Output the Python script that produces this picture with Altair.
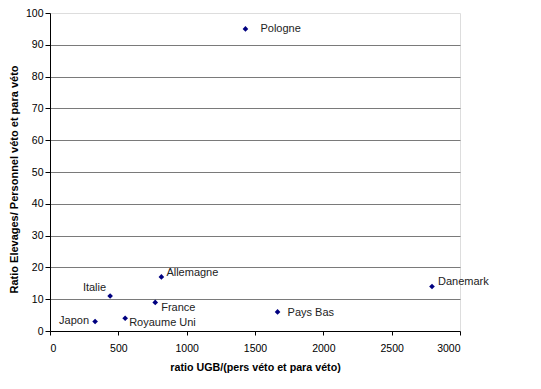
import altair as alt
import pandas as pd

pays = ["Pologne", "Danemark", "Pays Bas", "Allemagne", "Italie", "France", "Royaume Uni", "Japon"]
ugb = [1430, 2795, 1665, 815, 440, 770, 550, 330]
elevages = [95, 14, 6, 17, 11, 9, 4, 3]

x_ticks = [0, 500, 1000, 1500, 2000, 2500, 3000]
y_ticks = [0, 10, 20, 30, 40, 50, 60, 70, 80, 90, 100]

df = pd.DataFrame({"pays": pays, "ugb": ugb, "elev": elevages})

FONT = "Liberation Sans"

x_enc = alt.X("ugb:Q", scale=alt.Scale(domain=[0, 3000], nice=False, zero=True),
              axis=alt.Axis(values=x_ticks, format="d", labelOverlap=False,
                            title="ratio UGB/(pers véto et para véto)",
                            grid=False, domainColor="black", tickColor="black", tickSize=4,
                            labelPadding=8, labelFont=FONT, labelFontSize=10.5, labelColor="black",
                            titleFont=FONT, titleFontSize=10.7, titleFontWeight="bold",
                            titleColor="black", titlePadding=9))
y_enc = alt.Y("elev:Q", scale=alt.Scale(domain=[0, 100], nice=False),
              axis=alt.Axis(values=y_ticks, format="d", labelOverlap=False,
                            title="Ratio Elevages/ Personnel véto et para véto",
                            grid=True, gridColor="#7a7a7a", gridWidth=1,
                            gridOpacity={"condition": {"test": "datum.value === 100 || datum.value === 0", "value": 0}, "value": 1},
                            domainColor="black", tickColor="black", tickSize=5,
                            labelPadding=2, labelFont=FONT, labelFontSize=10.5, labelColor="black",
                            titleFont=FONT, titleFontSize=11, titleFontWeight="bold",
                            titleColor="black", titlePadding=6, titleY=166))

points = alt.Chart(df).mark_point(shape="diamond", filled=True, color="#000080", size=32, opacity=1).encode(
    x=x_enc, y=y_enc)

# label placement (dx, dy, align) per country
offsets = {
    "Pologne": (15, 0, "left"),
    "Danemark": (6, -4, "left"),
    "Pays Bas": (10, 1, "left"),
    "Allemagne": (5, -4, "left"),
    "Italie": (-4, -8, "right"),
    "France": (6, 6, "left"),
    "Royaume Uni": (4, 5, "left"),
    "Japon": (-6, 0, "right"),
}

layers = [points]
for name, (dx, dy, align) in offsets.items():
    layers.append(
        alt.Chart(df).transform_filter(alt.datum.pays == name).mark_text(
            dx=dx, dy=dy, align=align, baseline="middle", font=FONT, fontSize=11, color="#222222"
        ).encode(x=x_enc, y=y_enc, text="pays:N")
    )

chart = alt.layer(*layers).properties(
    width=410, height=318,
    autosize=alt.AutoSizeParams(type="none"),
    padding={"left": 42, "top": 5, "right": 73, "bottom": 50},
).configure_view(stroke=None).configure(background="white")

chart.save("out.html", embed_options={"renderer": "svg", "actions": False})
